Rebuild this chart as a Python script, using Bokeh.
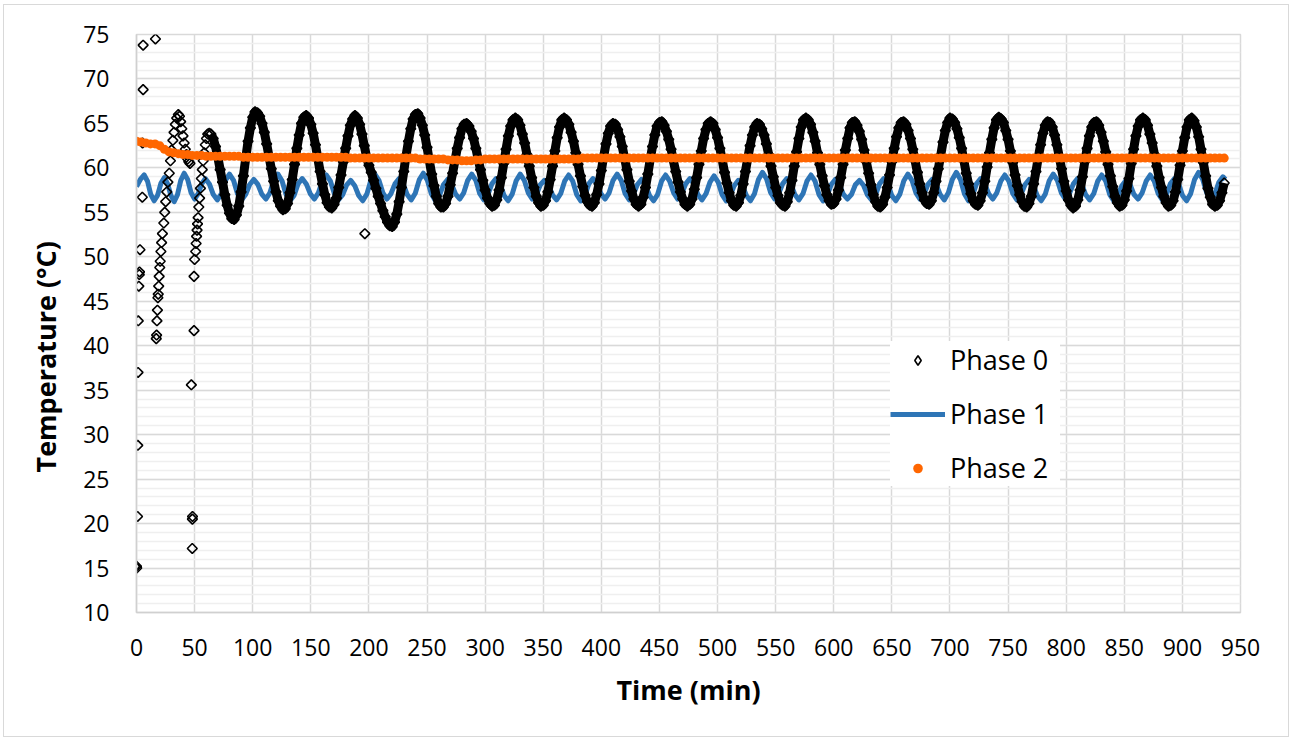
import math
from bokeh.plotting import figure
from bokeh.models import (Range1d, FixedTicker, Legend, LegendItem, ColumnDataSource,
                          CDSView, IndexFilter, Title)
from bokeh.embed import file_html
from bokeh.resources import INLINE

# ---------------- data ----------------
x_ticks = [0, 50, 100, 150, 200, 250, 300, 350, 400, 450, 500, 550, 600, 650, 700, 750, 800, 850, 900, 950]
y_ticks = [10, 15, 20, 25, 30, 35, 40, 45, 50, 55, 60, 65, 70, 75]

# Phase 0: start-up scatter (explicit time/temperature pairs)
phase0_early_t = [0.0, 0.2, 0.9, 1.1, 1.3, 1.5, 2.0, 2.4, 2.6, 3.0, 5.0, 5.2, 5.7, 5.7, 16.3,
                  17.0, 17.3, 17.6, 18.0, 18.4, 18.7, 19.1, 19.5, 20.0, 20.4, 21.0, 21.6, 22.3, 23.5,
                  24.3, 25.1, 26.0, 27.0, 28.2, 29.2, 30.2, 31.3, 32.3, 33.4, 34.6, 36.0,
                  37.0, 38.0, 39.0, 40.0, 41.0, 42.0, 43.0, 44.0, 45.0, 46.0,
                  48.0, 48.1, 48.2, 47.2, 49.5, 49.5, 50.0, 50.9, 51.3, 51.7, 52.1, 52.5, 53.0,
                  53.6, 54.3, 55.0, 55.8, 56.6, 57.4, 58.3, 59.2, 60.2, 61.3, 62.6, 196.5]
phase0_early_v = [15.2, 15.0, 20.8, 28.8, 37.0, 42.8, 46.7, 48.0, 48.3, 50.8, 56.7, 62.8, 68.8, 73.8, 74.5,
                  40.8, 41.2, 42.8, 44.0, 45.4, 45.8, 46.7, 47.8, 48.8, 49.5, 50.6, 51.6, 52.6, 53.8,
                  55.0, 56.2, 57.3, 58.4, 59.4, 60.8, 62.0, 63.1, 64.0, 64.9, 65.6, 66.0,
                  65.8, 65.2, 64.4, 63.6, 62.8, 62.1, 61.5, 61.0, 60.7, 60.5,
                  17.2, 20.5, 20.8, 35.6, 41.7, 47.8, 49.7, 50.6, 51.5, 52.3, 53.0, 53.7, 54.4,
                  55.6, 56.6, 57.7, 58.8, 59.8, 60.8, 61.7, 62.6, 63.3, 63.8, 63.9, 52.6]

# Phase 0: regular oscillation, one reading every 2 min starting at t = 64 min
phase0_start = 64
phase0_step = 2
phase0_v = [
    63.8, 63.3, 62.4, 61.2, 59.8, 58.4, 57.0, 55.8, 54.9, 54.3,
    54.2, 54.7, 55.7, 57.3, 59.1, 61.1, 63.0, 64.5, 65.7, 66.3,
    66.2, 65.8, 65.0, 64.0, 62.7, 61.3, 59.9, 58.5, 57.3, 56.3,
    55.7, 55.3, 55.4, 56.0, 57.2, 58.7, 60.4, 62.2, 63.7, 65.0,
    65.7, 65.9, 65.6, 64.9, 63.9, 62.6, 61.1, 59.6, 58.2, 57.0,
    56.1, 55.6, 55.5, 55.9, 56.6, 57.8, 59.2, 60.7, 62.2, 63.6,
    64.8, 65.5, 65.9, 65.6, 64.9, 63.8, 62.5, 61.2, 60.3, 59.5,
    58.6, 57.7, 56.8, 56.0, 55.2, 54.5, 53.9, 53.5, 53.4, 53.9,
    54.8, 56.2, 57.8, 59.6, 61.4, 63.0, 64.4, 65.5, 66.0, 66.1,
    65.6, 64.8, 63.7, 62.3, 60.8, 59.3, 58.0, 56.8, 56.0, 55.6,
    55.6, 56.0, 56.8, 58.1, 59.4, 60.8, 62.2, 63.4, 64.4, 64.9,
    65.0, 64.7, 64.1, 63.3, 62.2, 61.0, 59.8, 58.6, 57.5, 56.6,
    56.0, 55.7, 55.8, 56.4, 57.5, 58.9, 60.5, 62.1, 63.6, 64.7,
    65.4, 65.6, 65.4, 64.8, 63.8, 62.8, 61.5, 60.2, 58.9, 57.8,
    56.8, 56.1, 55.7, 55.8, 56.3, 57.3, 58.7, 60.2, 61.9, 63.4,
    64.6, 65.4, 65.6, 65.4, 64.9, 64.0, 63.0, 61.7, 60.4, 59.1,
    57.9, 56.9, 56.2, 55.8, 55.7, 56.1, 57.0, 58.2, 59.7, 61.3,
    62.7, 63.9, 64.7, 65.0, 64.9, 64.3, 63.5, 62.4, 61.1, 59.8,
    58.5, 57.4, 56.5, 55.9, 55.7, 55.9, 56.7, 57.8, 59.3, 60.9,
    62.4, 63.7, 64.7, 65.1, 65.2, 64.8, 64.1, 63.2, 62.1, 60.8,
    59.6, 58.4, 57.3, 56.5, 55.9, 55.7, 55.9, 56.5, 57.6, 58.9,
    60.4, 61.9, 63.3, 64.3, 65.0, 65.2, 65.0, 64.3, 63.4, 62.2,
    60.9, 59.5, 58.3, 57.2, 56.3, 55.8, 55.7, 56.1, 56.9, 58.2,
    59.6, 61.1, 62.5, 63.7, 64.6, 65.0, 64.9, 64.4, 63.7, 62.7,
    61.5, 60.2, 59.0, 57.8, 56.9, 56.1, 55.8, 55.7, 56.2, 57.2,
    58.6, 60.2, 61.8, 63.3, 64.6, 65.4, 65.6, 65.4, 64.9, 64.0,
    63.0, 61.7, 60.4, 59.1, 58.0, 57.0, 56.3, 55.9, 56.0, 56.5,
    57.5, 58.9, 60.4, 62.0, 63.3, 64.5, 65.1, 65.2, 64.8, 64.1,
    63.2, 62.0, 60.7, 59.4, 58.1, 57.0, 56.2, 55.7, 55.6, 55.9,
    56.7, 57.8, 59.2, 60.7, 62.2, 63.5, 64.5, 65.1, 65.2, 64.9,
    64.2, 63.3, 62.1, 60.8, 59.5, 58.2, 57.2, 56.4, 56.0, 55.9,
    56.3, 57.2, 58.5, 59.9, 61.4, 62.9, 64.2, 65.1, 65.6, 65.5,
    65.1, 64.4, 63.4, 62.2, 60.8, 59.4, 58.2, 57.1, 56.3, 55.9,
    55.8, 56.3, 57.2, 58.5, 60.1, 61.7, 63.2, 64.5, 65.4, 65.7,
    65.5, 65.1, 64.2, 63.2, 61.9, 60.6, 59.2, 58.0, 57.0, 56.2,
    55.7, 55.6, 56.0, 56.8, 58.2, 59.6, 61.2, 62.6, 63.9, 64.8,
    65.2, 65.1, 64.6, 63.7, 62.6, 61.3, 59.9, 58.5, 57.4, 56.4,
    55.8, 55.5, 55.7, 56.4, 57.5, 59.0, 60.7, 62.2, 63.6, 64.6,
    65.1, 65.2, 64.8, 64.0, 63.0, 61.8, 60.4, 59.1, 57.9, 56.8,
    56.1, 55.7, 55.8, 56.4, 57.4, 58.8, 60.5, 62.1, 63.6, 64.7,
    65.4, 65.6, 65.4, 64.8, 63.8, 62.8, 61.5, 60.2, 58.9, 57.8,
    56.8, 56.1, 55.7, 55.8, 56.3, 57.3, 58.7, 60.3, 61.9, 63.4,
    64.6, 65.4, 65.6, 65.3, 64.6, 63.5, 62.1, 60.6, 59.1, 57.7,
    56.7, 55.9, 55.7, 55.8, 56.3, 57.2, 58.3,
]

# Phase 1: points along the blue curve (time, temperature)
phase1_t = [
    0, 3.3, 6.6, 9.5, 12.3, 15.2, 18.1, 21.1, 24, 26.8, 29.6, 32.4, 35.3, 38.1,
    41, 44, 47, 50, 53.1, 56.1, 59.2, 62.7, 66.1, 69.6, 73.1, 76.5,
    80, 83.5, 86.9, 90.4, 93.9, 97.3,
    100.9, 104.4, 107.8, 111.3, 114.8, 118.2,
    121.7, 125.2, 128.6, 132.1, 135.6, 139,
    142.6, 146.1, 149.5, 153, 156.5, 159.9,
    163.4, 166.9, 170.3, 173.8, 177.3, 180.7,
    184.3, 187.8, 191.2, 194.7, 198.2, 201.6,
    205.1, 208.6, 212, 215.5, 219, 222.4,
    226, 229.5, 232.9, 236.4, 239.9, 243.3,
    246.8, 250.3, 253.7, 257.2, 260.7, 264.1,
    267.7, 271.2, 274.6, 278.1, 281.6, 285,
    288.5, 292, 295.4, 298.9, 302.4, 305.8,
    309.4, 312.9, 316.3, 319.8, 323.3, 326.7,
    330.2, 333.7, 337.1, 340.6, 344.1, 347.5,
    351.1, 354.6, 358, 361.5, 365, 368.4,
    371.9, 375.4, 378.8, 382.3, 385.8, 389.2,
    392.8, 396.3, 399.7, 403.2, 406.7, 410.1,
    413.6, 417.1, 420.5, 424, 427.5, 430.9,
    434.5, 438, 441.4, 444.9, 448.4, 451.8,
    455.3, 458.8, 462.2, 465.7, 469.2, 472.6,
    476.2, 479.7, 483.1, 486.6, 490.1, 493.5,
    497, 500.5, 503.9, 507.4, 510.9, 514.3,
    517.9, 521.4, 524.8, 528.3, 531.8, 535.2,
    538.7, 542.2, 545.6, 549.1, 552.6, 556,
    559.6, 563.1, 566.5, 570, 573.5, 576.9,
    580.4, 583.9, 587.3, 590.8, 594.3, 597.7,
    601.3, 604.8, 608.2, 611.7, 615.2, 618.6,
    622.1, 625.6, 629, 632.5, 636, 639.4,
    643, 646.5, 649.9, 653.4, 656.9, 660.3,
    663.8, 667.3, 670.7, 674.2, 677.7, 681.1,
    684.7, 688.2, 691.6, 695.1, 698.6, 702,
    705.5, 709, 712.4, 715.9, 719.4, 722.8,
    726.4, 729.9, 733.3, 736.8, 740.3, 743.7,
    747.2, 750.7, 754.1, 757.6, 761.1, 764.5,
    768.1, 771.6, 775, 778.5, 782, 785.4,
    788.9, 792.4, 795.8, 799.3, 802.8, 806.2,
    809.8, 813.3, 816.7, 820.2, 823.7, 827.1,
    830.6, 834.1, 837.5, 841, 844.5, 847.9,
    851.5, 855, 858.4, 861.9, 865.4, 868.8,
    872.3, 875.8, 879.2, 882.7, 886.2, 889.6,
    893.2, 896.7, 900.1, 903.6, 907.1, 910.5,
    914, 917.5, 920.9, 924.4, 927.9, 931.3,
    934.9, 937,
]
phase1_v = [
    57.9, 58.7, 59.2, 58.5, 57.0, 56.3, 56.9, 58.3, 58.9, 58.2, 56.9, 56.2, 57.0, 58.6,
    59.4, 58.7, 57.2, 56.5, 57.1, 58.2, 58.8, 58.2, 57.0, 56.4, 57.1, 58.6,
    59.3, 58.6, 57.1, 56.4, 57.0, 58.1,
    58.7, 58.15, 57.05, 56.5, 57.2, 58.6,
    59.3, 58.55, 57.05, 56.3, 56.9, 58.2,
    58.8, 58.2, 57.1, 56.5, 57.2, 58.5,
    59.2, 58.5, 57.1, 56.4, 56.95, 58.05,
    58.6, 58.0, 56.9, 56.3, 57.05, 58.55,
    59.3, 58.6, 57.2, 56.5, 57.1, 58.2,
    58.8, 58.2, 57.0, 56.4, 57.15, 58.65,
    59.4, 58.6, 57.1, 56.3, 56.9, 58.1,
    58.7, 58.15, 57.05, 56.5, 57.2, 58.6,
    59.3, 58.6, 57.1, 56.4, 57.0, 58.2,
    58.8, 58.2, 56.9, 56.3, 57.05, 58.55,
    59.3, 58.6, 57.2, 56.5, 57.0, 58.1,
    58.6, 58.05, 56.95, 56.4, 57.1, 58.5,
    59.2, 58.5, 57.0, 56.3, 56.9, 58.2,
    58.8, 58.2, 57.1, 56.5, 57.2, 58.6,
    59.3, 58.6, 57.1, 56.4, 57.0, 58.1,
    58.7, 58.1, 56.9, 56.3, 57.0, 58.5,
    59.2, 58.5, 57.2, 56.5, 57.1, 58.2,
    58.8, 58.2, 57.0, 56.4, 57.1, 58.4,
    59.1, 58.4, 57.0, 56.3, 56.9, 58.0,
    58.6, 58.0, 56.9, 56.3, 57.1, 58.7,
    59.5, 58.75, 57.25, 56.5, 57.1, 58.2,
    58.8, 58.2, 57.0, 56.4, 57.1, 58.5,
    59.2, 58.5, 57.0, 56.3, 56.9, 58.1,
    58.7, 58.15, 57.05, 56.5, 57.0, 58.1,
    58.6, 58.05, 56.95, 56.4, 57.0, 58.2,
    58.8, 58.2, 56.9, 56.3, 57.05, 58.55,
    59.3, 58.6, 57.2, 56.5, 57.05, 58.15,
    58.7, 58.1, 57.0, 56.4, 57.2, 58.7,
    59.5, 58.7, 57.1, 56.3, 56.9, 58.2,
    58.8, 58.2, 57.1, 56.5, 57.2, 58.5,
    59.2, 58.5, 57.1, 56.4, 57.0, 58.1,
    58.7, 58.1, 56.9, 56.3, 57.05, 58.55,
    59.3, 58.6, 57.2, 56.5, 57.1, 58.2,
    58.8, 58.2, 57.0, 56.4, 57.1, 58.5,
    59.2, 58.5, 57.0, 56.3, 56.9, 58.0,
    58.6, 58.1, 57.0, 56.5, 57.2, 58.5,
    59.2, 58.5, 57.1, 56.4, 57.0, 58.2,
    58.8, 58.2, 56.9, 56.3, 57.1, 58.7,
    59.5, 58.7, 57.2, 56.4, 57.05, 58.35,
    59.0, 58.7,
]

# Phase 2: one reading every 4 min starting at t = 0
phase2_start = 0
phase2_step = 4
phase2_v = [
    63.0, 62.9, 62.8, 62.7, 62.7, 62.5, 62.1, 61.8, 61.7, 61.6,
    61.5, 61.5, 61.4, 61.4, 61.4, 61.3, 61.3, 61.3, 61.3, 61.3,
    61.3, 61.3, 61.3, 61.2, 61.2, 61.2, 61.2, 61.2, 61.2, 61.2,
    61.2, 61.2, 61.2, 61.2, 61.2, 61.2, 61.2, 61.2, 61.2, 61.2,
    61.2, 61.2, 61.2, 61.2, 61.2, 61.2, 61.1, 61.1, 61.1, 61.1,
    61.1, 61.1, 61.1, 61.1, 61.1, 61.1, 61.1, 61.1, 61.1, 61.1,
    61.1, 61.0, 61.0, 61.0, 61.0, 61.0, 61.0, 60.9, 60.9, 60.9,
    60.8, 60.8, 60.8, 60.9, 60.9, 61.0, 61.0, 61.0, 61.0, 61.0,
    61.0, 61.0, 61.0, 61.0, 61.0, 61.0, 61.0, 61.0, 61.0, 61.0,
    61.0, 61.0, 61.0, 61.0, 61.0, 61.0, 61.1, 61.1, 61.1, 61.1,
    61.1, 61.1, 61.1, 61.1, 61.1, 61.1, 61.1, 61.1, 61.1, 61.1,
    61.1, 61.1, 61.1, 61.1, 61.1, 61.1, 61.1, 61.1, 61.1, 61.1,
    61.1, 61.1, 61.1, 61.1, 61.1, 61.1, 61.1, 61.1, 61.1, 61.1,
    61.1, 61.1, 61.1, 61.1, 61.1, 61.1, 61.1, 61.1, 61.1, 61.1,
    61.1, 61.1, 61.1, 61.1, 61.1, 61.1, 61.1, 61.1, 61.1, 61.1,
    61.1, 61.1, 61.1, 61.1, 61.1, 61.1, 61.1, 61.1, 61.1, 61.1,
    61.1, 61.1, 61.1, 61.1, 61.1, 61.1, 61.1, 61.1, 61.1, 61.1,
    61.1, 61.1, 61.1, 61.1, 61.1, 61.1, 61.1, 61.1, 61.1, 61.1,
    61.1, 61.1, 61.1, 61.1, 61.1, 61.1, 61.1, 61.1, 61.1, 61.1,
    61.1, 61.1, 61.1, 61.1, 61.1, 61.1, 61.1, 61.1, 61.1, 61.1,
    61.1, 61.1, 61.1, 61.1, 61.1, 61.1, 61.1, 61.1, 61.1, 61.1,
    61.1, 61.1, 61.1, 61.1, 61.1, 61.1, 61.1, 61.1, 61.1, 61.1,
    61.1, 61.1, 61.1, 61.1, 61.1, 61.1, 61.1, 61.1, 61.1, 61.1,
    61.1, 61.1, 61.1, 61.1, 61.1,
]

series_names = ["Phase 0", "Phase 1", "Phase 2"]
x_title = "Time (min)"
y_title = "Temperature (°C)"

# ---------------- build sources ----------------
main_t = [phase0_start + phase0_step * i for i in range(len(phase0_v))]
src0_all = ColumnDataSource(dict(t=phase0_early_t + main_t, v=phase0_early_v + phase0_v))
src0_main = ColumnDataSource(dict(t=main_t, v=phase0_v))
src1 = ColumnDataSource(dict(t=phase1_t, v=phase1_v))
p2_t = [phase2_start + phase2_step * i for i in range(len(phase2_v))]
src2 = ColumnDataSource(dict(t=p2_t, v=phase2_v))

FONT = "Open Sans"

p = figure(width=1284, height=731, output_backend="svg", toolbar_location=None,
           x_range=Range1d(0, 950), y_range=Range1d(10, 75),
           min_border_left=132, min_border_right=48, min_border_top=29, min_border_bottom=124)
p.styles = {"margin-left": "4px", "margin-top": "5px", "outline": "1px solid #d9d9d9"}
p.background_fill_color = "white"
p.border_fill_color = "white"
p.outline_line_color = "#d9d9d9"
p.outline_line_width = 1.5

# grids
p.xgrid.ticker = FixedTicker(ticks=x_ticks)
p.ygrid.ticker = FixedTicker(ticks=y_ticks, minor_ticks=list(range(10, 76)))
p.xgrid.grid_line_color = "#d9d9d9"
p.xgrid.grid_line_width = 1.5
p.ygrid.grid_line_color = "#d9d9d9"
p.ygrid.grid_line_width = 1.5
p.ygrid.minor_grid_line_color = "#efefef"
p.ygrid.minor_grid_line_width = 1.5

# axes
p.xaxis.ticker = FixedTicker(ticks=x_ticks)
p.yaxis.ticker = FixedTicker(ticks=y_ticks)
for ax in (p.xaxis[0], p.yaxis[0]):
    ax.axis_line_color = "#d0d0d0"
    ax.axis_line_width = 1.5
    ax.major_tick_line_color = None
    ax.minor_tick_line_color = None
    ax.major_label_text_font = FONT
    ax.major_label_text_font_size = "23px"
    ax.major_label_text_color = "#000000"
    ax.axis_label_text_font = FONT
    ax.axis_label_text_font_size = "27px"
    ax.axis_label_text_font_style = "bold"
    ax.axis_label_text_color = "#000000"
p.xaxis.axis_label = x_title
p.xaxis.major_label_standoff = 20
p.yaxis.major_label_standoff = 21
p.xaxis.axis_label_standoff = 12

# y title as a side title, starting a little below the middle of the plot area as in the original
ytitle = Title(text=y_title, align="left", offset=140, text_font=FONT, text_font_size="27px",
               text_font_style="bold", text_color="#000000", standoff=33)
p.add_layout(ytitle, "left")

# series
r1 = p.line("t", "v", source=src1, line_color="#2E75B6", line_width=5, line_join="round")
p.line("t", "v", source=src0_main, line_color="black", line_width=9, line_join="round")
p.scatter("t", "v", source=src0_all, marker="square", angle=math.pi / 4, size=7,
          line_color="black", line_width=1.6, fill_alpha=0)
# diamond glyph used as the Phase 0 legend symbol (redraws the first start-up reading)
r0 = p.scatter("t", "v", source=src0_all, view=CDSView(filter=IndexFilter(indices=[0])),
               marker="diamond", size=9, line_color="black", line_width=1.6, fill_alpha=0)
r2 = p.scatter("t", "v", source=src2, marker="circle", size=9, line_color=None,
               fill_color="#FF6600")

legend = Legend(items=[LegendItem(label=series_names[0], renderers=[r0], index=0),
                       LegendItem(label=series_names[1], renderers=[r1]),
                       LegendItem(label=series_names[2], renderers=[r2])],
                location=(754, 126))
legend.label_text_font = FONT
legend.label_text_font_size = "27px"
legend.label_text_color = "#000000"
legend.glyph_width = 55
legend.glyph_height = 24
legend.label_height = 36
legend.label_width = 110
legend.label_standoff = 5
legend.spacing = 17
legend.padding = 20
legend.margin = 0
legend.border_line_color = None
legend.background_fill_color = "white"
legend.background_fill_alpha = 1.0
p.add_layout(legend)

open("out.html", "w").write(file_html(p, INLINE))
